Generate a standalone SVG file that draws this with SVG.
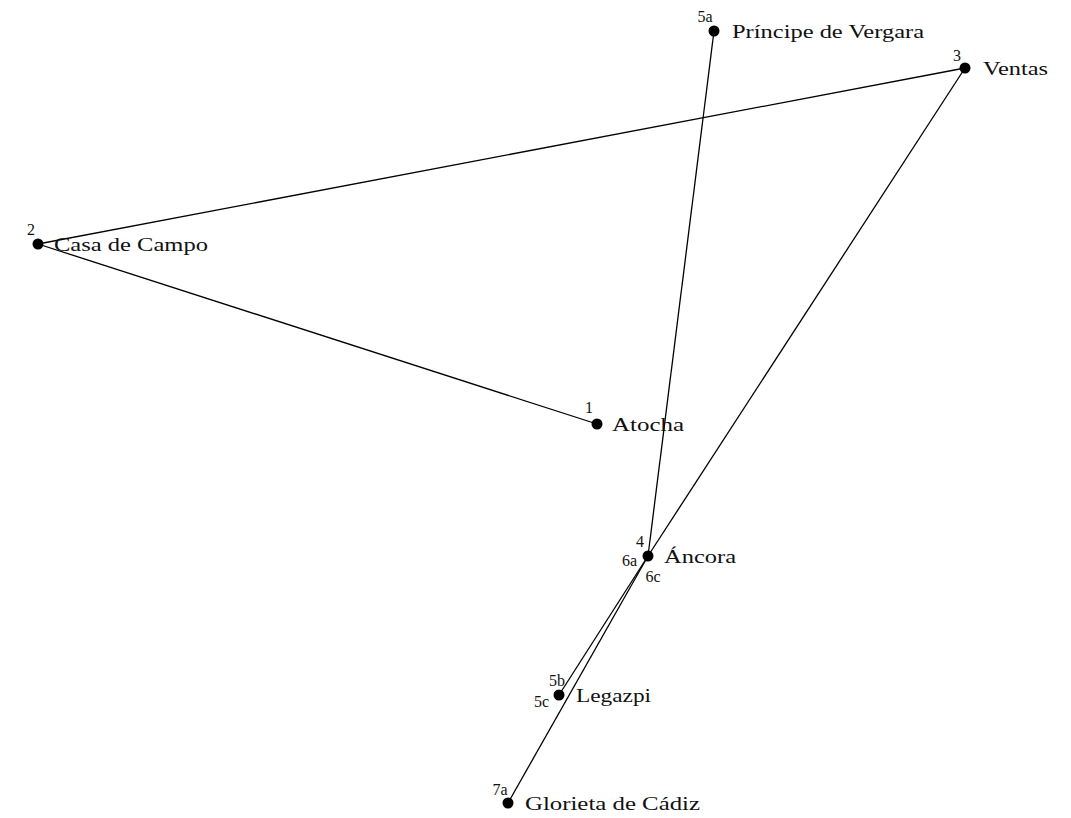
<svg xmlns="http://www.w3.org/2000/svg" width="1071" height="818" viewBox="0 0 1071 818">
<style>
.edge{stroke:#000;stroke-width:1.3;fill:none}
.dot{fill:#000}
.name{font-family:"Liberation Serif",serif;font-size:19px;fill:#111}
.num{font-family:"Liberation Serif",serif;font-size:16px;fill:#111}
</style>
<rect width="1071" height="818" fill="#fff"/>
<g id="connectors">
<line class="edge" x1="38" y1="244" x2="965" y2="68"/>
<line class="edge" x1="38" y1="244" x2="597" y2="424"/>
<line class="edge" x1="714" y1="31" x2="648" y2="556"/>
<line class="edge" x1="965" y1="68" x2="648" y2="556"/>
<line class="edge" x1="648" y1="556" x2="559" y2="695"/>
<line class="edge" x1="648" y1="556" x2="508" y2="803"/>
</g>
<g id="node-principe">
<circle class="dot" cx="714" cy="31" r="5.5"/>
<text class="num" x="705" y="22" text-anchor="middle">5a</text>
<text class="name" x="732" y="38" textLength="192" lengthAdjust="spacingAndGlyphs">Príncipe de Vergara</text>
</g>
<g id="node-ventas">
<circle class="dot" cx="965" cy="68" r="5.5"/>
<text class="num" x="957" y="61" text-anchor="middle">3</text>
<text class="name" x="983" y="75" textLength="65" lengthAdjust="spacingAndGlyphs">Ventas</text>
</g>
<g id="node-casa">
<circle class="dot" cx="38" cy="244" r="5.5"/>
<text class="num" x="31" y="235" text-anchor="middle">2</text>
<text class="name" x="54" y="251" textLength="154" lengthAdjust="spacingAndGlyphs">Casa de Campo</text>
</g>
<g id="node-atocha">
<circle class="dot" cx="597" cy="424" r="5.5"/>
<text class="num" x="589" y="413" text-anchor="middle">1</text>
<text class="name" x="612" y="431" textLength="72" lengthAdjust="spacingAndGlyphs">Atocha</text>
</g>
<g id="node-ancora">
<circle class="dot" cx="648" cy="556" r="5.5"/>
<text class="num" x="640" y="547" text-anchor="middle">4</text>
<text class="num" x="637" y="566" text-anchor="end">6a</text>
<text class="num" x="653" y="582" text-anchor="middle">6c</text>
<text class="name" x="664" y="563" textLength="72" lengthAdjust="spacingAndGlyphs">Áncora</text>
</g>
<g id="node-legazpi">
<circle class="dot" cx="559" cy="695" r="5.5"/>
<text class="num" x="557" y="686" text-anchor="middle">5b</text>
<text class="num" x="549" y="707" text-anchor="end">5c</text>
<text class="name" x="576" y="702" textLength="75" lengthAdjust="spacingAndGlyphs">Legazpi</text>
</g>
<g id="node-glorieta">
<circle class="dot" cx="508" cy="803" r="5.5"/>
<text class="num" x="500" y="795" text-anchor="middle">7a</text>
<text class="name" x="525" y="810" textLength="175" lengthAdjust="spacingAndGlyphs">Glorieta de Cádiz</text>
</g>
</svg>
